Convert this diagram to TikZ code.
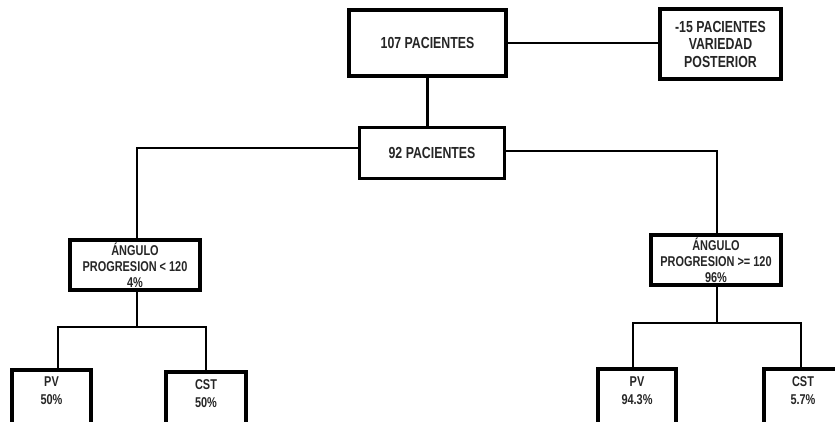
\documentclass[tikz,border=0pt]{standalone}
\usepackage{fontspec}
\setmainfont{Liberation Sans}[FakeStretch=0.77]
\begin{document}
\begin{tikzpicture}[x=1pt,y=-1pt,
  box/.style={draw=black, line width=3.8pt, inner sep=0pt, align=center, text=black!85,
    font=\bfseries\fontsize{14.2}{16}\selectfont},
  bigtext/.style={font=\bfseries\fontsize{16}{17.5}\selectfont},
  txt/.style={inner sep=0pt, align=center, text=black!85, font=\bfseries\fontsize{14.2}{18}\selectfont},
  conn/.style={draw=black, line width=2.7pt}]
\useasboundingbox (0,0) rectangle (835,421);
\fill[white] (0,0) rectangle (835,421);
\clip (0,0) rectangle (835,421);
% top row
\node[box, bigtext, minimum width=157pt, minimum height=66pt] (n107) at (427.5,43) {107 PACIENTES};
\node[box, bigtext, minimum width=121pt, minimum height=70pt] (n15) at (720.5,44) {-15 PACIENTES\\VARIEDAD\\POSTERIOR};
\node[box, bigtext, line width=3pt, minimum width=145pt, minimum height=51pt] (n92) at (432,153) {92 PACIENTES};
% second level
\node[box, minimum width=130pt, minimum height=50pt] (la) at (135,265) {ÁNGULO\\PROGRESION < 120\\4\%};
\node[box, minimum width=130pt, minimum height=50pt] (ra) at (716,260) {ÁNGULO\\PROGRESION >= 120\\96\%};
% bottom boxes
\node[box, anchor=north, minimum width=79pt, minimum height=80pt] (lpv) at (51.5,368) {};
\node[box, anchor=north, minimum width=80pt, minimum height=80pt] (lcst) at (206,370) {};
\node[box, anchor=north, minimum width=78pt, minimum height=80pt] (rpv) at (637,367) {};
\node[box, anchor=north, minimum width=78pt, minimum height=80pt] (rcst) at (803,367) {};
\node[txt] (lpvt) at ([yshift=-23pt]lpv.north) {PV\\50\%};
\node[txt] (lcstt) at ([yshift=-24pt]lcst.north) {CST\\50\%};
\node[txt] (rpvt) at ([yshift=-24pt]rpv.north) {PV\\94.3\%};
\node[txt] (rcstt) at ([yshift=-24pt]rcst.north) {CST\\5.7\%};
% connectors
\draw[conn] (n107.east) -- (n107.east -| n15.west);
\draw[conn] (n107.south) -- (n107.south |- n92.north);
\draw[conn] ([yshift=5pt]n92.west) -| ([xshift=2pt]la.north);
\draw[conn] ([yshift=2pt]n92.east) -| ([xshift=1pt]ra.north);
\coordinate (lj) at (137,327);
\coordinate (rj) at (717,323);
\draw[conn] ([xshift=2pt]la.south) -- (lj);
\draw[conn] ([xshift=6.5pt]lpv.north) |- (lj) -| (lcst.north);
\draw[conn] ([xshift=1pt]ra.south) -- (rj);
\draw[conn] ([xshift=-4pt]rpv.north) |- (rj) -| ([xshift=-2pt]rcst.north);
\end{tikzpicture}
\end{document}
